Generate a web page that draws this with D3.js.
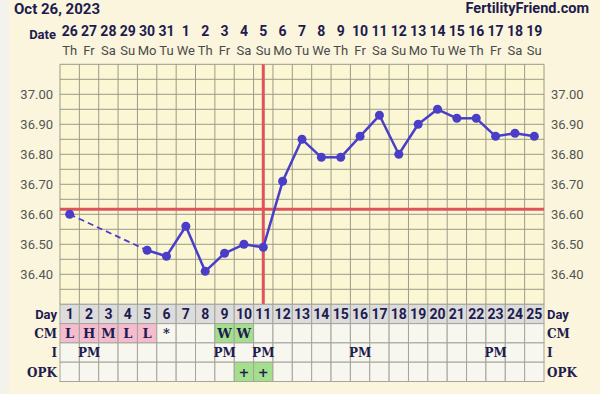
<!DOCTYPE html>
<html>
<head>
<meta charset="utf-8">
<script src="https://cdn.jsdelivr.net/npm/d3@7"></script>
<style>
  body { margin: 0; background: #faf5dc; }
  svg { display: block; }
</style>
</head>
<body>
<svg id="chart" width="600" height="394"></svg>
<script>
// chart data
const dates = [26, 27, 28, 29, 30, 31, 1, 2, 3, 4, 5, 6, 7, 8, 9, 10, 11, 12, 13, 14, 15, 16, 17, 18, 19]
const weekdays = ['Th', 'Fr', 'Sa', 'Su', 'Mo', 'Tu', 'We', 'Th', 'Fr', 'Sa', 'Su', 'Mo', 'Tu', 'We', 'Th', 'Fr', 'Sa', 'Su', 'Mo', 'Tu', 'We', 'Th', 'Fr', 'Sa', 'Su']
const days = d3.range(1, 26)
const temps = [36.60, null, null, null, 36.48, 36.46, 36.56, 36.41, 36.47, 36.50, 36.49, 36.71, 36.85, 36.79, 36.79, 36.86, 36.93, 36.80, 36.90, 36.95, 36.92, 36.92, 36.86, 36.87, 36.86]
const cm = ['L', 'H', 'M', 'L', 'L', '*', '', '', 'W', 'W', '', '', '', '', '', '', '', '', '', '', '', '', '', '', '']
const intercourse = ['', 'PM', '', '', '', '', '', '', 'PM', '', 'PM', '', '', '', '', 'PM', '', '', '', '', '', '', 'PM', '', '']
const opk = ['', '', '', '', '', '', '', '', '', '+', '+', '', '', '', '', '', '', '', '', '', '', '', '', '', '']
const yTicks = [36.40, 36.50, 36.60, 36.70, 36.80, 36.90, 37.00]
const coverline = 36.617
const ovulationDay = 11

const svg = d3.select('#chart')
const navy = '#1d1b4f'
const plotLeft = 60, plotRight = 544, plotTop = 64.3, plotBottom = 304.3
const rowH = 19.3

const x = d3.scaleBand().domain(days).range([plotLeft, plotRight])
const cx = d => x(d) + x.bandwidth() / 2
const y = d3.scaleLinear().domain([36.30, 37.10]).range([plotBottom, plotTop])

svg.append('rect').attr('width', 600).attr('height', 394).attr('fill', '#faf5dc')
svg.append('rect').attr('width', 9).attr('height', 394).attr('fill', '#f3f2ec')

// header
svg.append('text').attr('x', 14).attr('y', 13.5)
  .attr('font-family', 'Roboto').attr('font-weight', 'bold').attr('font-size', 15)
  .attr('fill', navy).text('Oct 26, 2023')
svg.append('text').attr('x', 589).attr('y', 13)
  .attr('text-anchor', 'end')
  .attr('font-family', 'Roboto').attr('font-weight', 'bold').attr('font-size', 14.5)
  .attr('fill', navy).text('FertilityFriend.com')

svg.append('text').attr('x', 56).attr('y', 39).attr('text-anchor', 'end')
  .attr('font-family', 'Roboto').attr('font-weight', 'bold').attr('font-size', 13)
  .attr('fill', navy).text('Date')

svg.append('g').selectAll('text').data(days).enter().append('text')
  .attr('x', d => cx(d)).attr('y', 36).attr('text-anchor', 'middle')
  .attr('font-family', 'Roboto').attr('font-weight', 'bold').attr('font-size', 14)
  .attr('fill', navy).text((d, i) => dates[i])

svg.append('g').selectAll('text').data(days).enter().append('text')
  .attr('x', d => cx(d)).attr('y', 55).attr('text-anchor', 'middle')
  .attr('font-family', 'Roboto').attr('font-size', 13)
  .attr('fill', '#4a4a4a').text((d, i) => weekdays[i])

// plot area
svg.append('rect').attr('x', plotLeft).attr('y', plotTop).attr('width', plotRight - plotLeft).attr('height', plotBottom - plotTop)
  .attr('fill', '#fbf7d5')

const grid = svg.append('g').attr('stroke', '#9c9a88').attr('stroke-width', 1)
grid.selectAll('.v').data(d3.range(0, 26)).enter().append('line')
  .attr('x1', i => plotLeft + i * x.bandwidth()).attr('x2', i => plotLeft + i * x.bandwidth())
  .attr('y1', plotTop).attr('y2', plotBottom)
grid.selectAll('.h').data(d3.range(36.30, 37.101, 0.05)).enter().append('line')
  .attr('x1', plotLeft).attr('x2', plotRight)
  .attr('y1', d => y(d)).attr('y2', d => y(d))

// y axis labels
const axisL = svg.append('g').attr('transform', `translate(${plotLeft - 4},0)`)
  .call(d3.axisLeft(y).tickValues(yTicks).tickFormat(d3.format('.2f')).tickSize(0))
const axisR = svg.append('g').attr('transform', `translate(${plotRight + 4},0)`)
  .call(d3.axisRight(y).tickValues(yTicks).tickFormat(d3.format('.2f')).tickSize(0))
;[axisL, axisR].forEach(a => {
  a.select('.domain').remove()
  a.selectAll('text').attr('font-family', 'Roboto').attr('font-size', 13).attr('fill', '#555')
})

// coverline and ovulation line
svg.append('line').attr('x1', plotLeft).attr('x2', plotRight)
  .attr('y1', y(coverline)).attr('y2', y(coverline))
  .attr('stroke', '#e0535a').attr('stroke-width', 3)
svg.append('line').attr('x1', cx(ovulationDay)).attr('x2', cx(ovulationDay))
  .attr('y1', plotTop).attr('y2', plotBottom)
  .attr('stroke', '#e0535a').attr('stroke-width', 3)

// temperature line
const pts = days.map((d, i) => ({ day: d, t: temps[i] })).filter(p => p.t != null)
const lineColor = '#4a3ec9'
const line = d3.line().x(p => cx(p.day)).y(p => y(p.t))
for (let i = 1; i < pts.length; i++) {
  const a = pts[i - 1], b = pts[i]
  const gap = b.day - a.day > 1
  svg.append('path').attr('d', line([a, b]))
    .attr('fill', 'none').attr('stroke', lineColor)
    .attr('stroke-dasharray', gap ? '6,4' : null)
    .attr('stroke-width', gap ? 1.8 : 2.5)
}
svg.append('g').selectAll('circle').data(pts).enter().append('circle')
  .attr('cx', p => cx(p.day)).attr('cy', p => y(p.t)).attr('r', 4.5)
  .attr('fill', lineColor)

// table
const rows = [
  { label: 'Day', vals: days.map(String), fill: () => '#dcdcdc', font: 'Roboto' },
  { label: 'CM', vals: cm, fill: v => v === 'W' ? '#a3df8c' : (v && v !== '*' ? '#f5bccf' : '#f7f6ef'), font: 'DejaVu Serif' },
  { label: 'I', vals: intercourse, fill: () => '#f7f6ef', font: 'DejaVu Serif' },
  { label: 'OPK', vals: opk, fill: v => v === '+' ? '#a3df8c' : '#f7f6ef', font: 'DejaVu Serif' }
]
rows.forEach((r, ri) => {
  const ry = plotBottom + ri * rowH
  const g = svg.append('g')
  g.selectAll('rect').data(days).enter().append('rect')
    .attr('x', d => x(d)).attr('y', ry).attr('width', x.bandwidth()).attr('height', rowH)
    .attr('fill', (d, i) => r.fill(r.vals[i])).attr('stroke', '#a5a59a').attr('stroke-width', 1)
  g.selectAll('text').data(days).enter().append('text')
    .attr('x', d => cx(d)).attr('y', ry + 14.5).attr('text-anchor', 'middle')
    .attr('font-family', r.font).attr('font-weight', 'bold')
    .attr('font-size', ri === 0 ? 14 : (ri === 2 ? 12 : 13))
    .attr('fill', navy).text((d, i) => r.vals[i])
  const lf = ri === 0 ? 'Roboto' : 'DejaVu Serif'
  g.append('text').attr('x', plotLeft - 3).attr('y', ry + 14.5).attr('text-anchor', 'end')
    .attr('font-family', lf).attr('font-weight', 'bold').attr('font-size', ri === 0 ? 13 : 12)
    .attr('fill', navy).text(r.label)
  g.append('text').attr('x', plotRight + 3).attr('y', ry + 14.5)
    .attr('font-family', lf).attr('font-weight', 'bold').attr('font-size', ri === 0 ? 13 : 12)
    .attr('fill', navy).text(r.label)
})
</script>
</body>
</html>
